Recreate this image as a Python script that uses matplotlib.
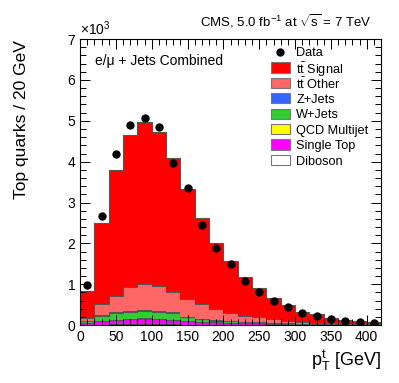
import matplotlib
matplotlib.use("Agg")
import matplotlib.pyplot as plt
import numpy as np
from matplotlib.patches import Rectangle
from matplotlib.ticker import MultipleLocator, FuncFormatter

plt.rcParams['font.family'] = ['Liberation Sans', 'DejaVu Sans']
plt.rcParams['mathtext.fontset'] = 'custom'
plt.rcParams['mathtext.rm'] = 'Liberation Sans'
plt.rcParams['mathtext.it'] = 'Liberation Sans:italic'

# bins of 20 GeV from 0 to 420
edges = np.arange(0, 421, 20)
data = [980, 2660, 4200, 4900, 5070, 4840, 3970, 3360, 2450, 1880, 1500,
        1080, 800, 580, 440, 290, 230, 140, 110, 80, 60]
diboson = [10, 15, 20, 20, 20, 20, 18, 15, 12, 10, 8, 6, 5, 4, 3, 3, 2, 2, 1, 1, 1]
single_top = [50, 85, 100, 120, 140, 130, 112, 95, 68, 60, 52, 44, 40, 36, 27, 22, 18, 13, 11, 9, 7]
qcd = [5, 5, 5, 5, 5, 5, 5, 4, 4, 3, 3, 2, 2, 2, 1, 1, 1, 1, 1, 1, 1]
wjets = [25, 115, 165, 175, 185, 165, 155, 76, 56, 37, 27, 23, 18, 8, 9, 9, 9, 9, 7, 4, 3]
zjets = [8, 25, 25, 22, 30, 25, 22, 18, 12, 10, 8, 6, 5, 4, 3, 3, 2, 2, 2, 1, 1]
tt_other = [72, 275, 405, 598, 620, 605, 508, 442, 358, 270, 202, 149, 120, 86, 57, 32, 28, 23, 18, 14, 17]
tt_signal = [660, 1970, 3080, 3710, 3980, 3780, 3270, 2690, 2120, 1610, 1260,
             960, 720, 520, 400, 260, 210, 120, 90, 70, 40]

# stack from bottom to top
layers = [
    (diboson, 'white', 'Diboson'),
    (single_top, '#ff00ff', 'Single Top'),
    (qcd, '#ffff00', 'QCD Multijet'),
    (wjets, '#33cc33', 'W+Jets'),
    (zjets, '#3366ff', 'Z+Jets'),
    (tt_other, '#ff6666', r't$\bar{\rm t}$ Other'),
    (tt_signal, '#ff0000', r't$\bar{\rm t}$ Signal'),
]

fig = plt.figure(figsize=(3.99, 3.83), dpi=100)
ax = fig.add_axes([0.2005, 0.151, 0.7545, 0.747])

bottom = np.zeros(len(edges) - 1)
for vals, col, lab in layers:
    top = bottom + np.array(vals)
    ax.stairs(top, edges, baseline=bottom, fill=True, color=col, lw=0)
    ax.stairs(top, edges, baseline=None, color='#555555', lw=0.8)
    bottom = top

centers = 0.5 * (edges[:-1] + edges[1:])
ax.plot(centers, data, 'o', color='black', ms=5, zorder=5)

ax.set_xlim(0, 420)
ax.set_ylim(0, 7000)
ax.xaxis.set_major_locator(MultipleLocator(50))
ax.xaxis.set_minor_locator(MultipleLocator(10))
ax.yaxis.set_major_locator(MultipleLocator(1000))
ax.yaxis.set_minor_locator(MultipleLocator(200))
ax.yaxis.set_major_formatter(FuncFormatter(lambda v, p: '%d' % round(v / 1000)))
ax.tick_params(which='both', direction='in', top=True, right=True, labelsize=10)
ax.tick_params(which='major', length=7, width=0.7)
ax.tick_params(which='minor', length=4, width=0.7)
for s in ax.spines.values():
    s.set_linewidth(0.8)
ax.set_axisbelow(False)

ax.set_ylabel('Top quarks / 20 GeV', fontsize=12.5)
ax.yaxis.set_label_coords(-0.17, 0.72)
ax.set_xlabel(r'p$_{\rm T}^{\rm t}$ [GeV]', fontsize=13, ha='right')
ax.xaxis.set_label_coords(1.0, -0.08)

ax.text(0.0, 1.005, r'$\times$10$^3$', transform=ax.transAxes, fontsize=10,
        ha='left', va='bottom')
ax.text(0.05, 0.925, 'e/μ + Jets Combined', transform=ax.transAxes,
        fontsize=10, va='center')
fig.text(0.5, 0.945, r'CMS, 5.0 fb$^{-1}$ at $\sqrt{\rm s}$ = 7 TeV',
         fontsize=9.5, ha='left', va='center')

# legend drawn by hand so the rows stay evenly spaced
y0, dy = 0.955, 0.054
ax.plot([0.666], [y0], 'o', color='black', ms=5, transform=ax.transAxes,
        clip_on=False)
ax.text(0.718, y0, 'Data', transform=ax.transAxes, fontsize=9.2,
        va='center_baseline')
for i, (vals, col, lab) in enumerate(reversed(layers)):
    y = y0 - (i + 1) * dy
    ax.add_patch(Rectangle((0.635, y - 0.018), 0.063, 0.036, facecolor=col,
                           edgecolor='#777777', lw=0.8, transform=ax.transAxes))
    ax.text(0.718, y, lab, transform=ax.transAxes, fontsize=9.2,
            va='center_baseline')

fig.savefig('out.png', dpi=100)
